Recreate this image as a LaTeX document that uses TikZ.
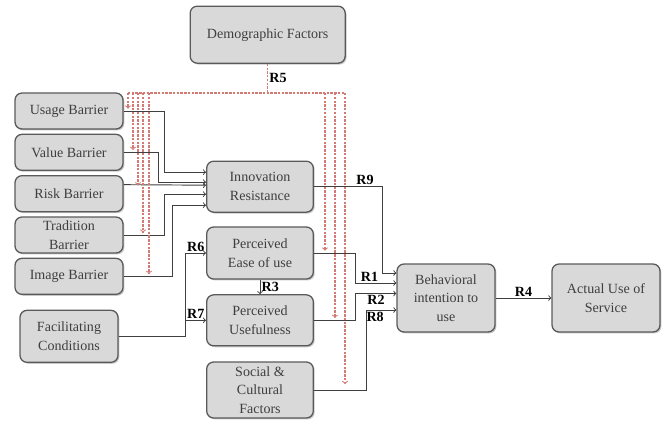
\documentclass[tikz,border=0pt]{standalone}
\usepackage{fontspec}
\setmainfont{Liberation Serif}
\usepackage{tikz}
\usetikzlibrary{positioning}
\usetikzlibrary{shadows}

\definecolor{boxgray}{HTML}{D9D9D9}
\definecolor{edgegray}{HTML}{5A5A5A}
\definecolor{textgray}{HTML}{3F3F3F}
\definecolor{modred}{HTML}{D47A74}

\begin{document}
\begin{tikzpicture}[->, >=to, auto, node distance = 1.24cm and 4.8cm, on grid,
                    font = \fontsize{12}{16}\selectfont,
                    block/.style = {rectangle,
                                    rounded corners = 6pt,
                                    draw = edgegray,
                                    line width = 1.1pt,
                                    fill = boxgray,
                                    drop shadow = {shadow xshift = 1.2pt,
                                                   shadow yshift = -1.2pt,
                                                   opacity = 0.45},
                                    text = textgray,
                                    align = center,
                                    inner sep = 1pt,
                                    minimum width = 3.24cm,
                                    minimum height = 1.08cm},
                    link/.style  = {draw = textgray, line width = 0.8pt},
                    moder/.style = {draw = modred, line width = 0.9pt,
                                    dash pattern = on 2pt off 1.2pt},
                    lbl/.style   = {font = \fontsize{12}{14}\selectfont\bfseries,
                                    text = black,
                                    inner sep = 1pt}]

\useasboundingbox (0,0) rectangle (19.95,-12.6);

\node[block, minimum width = 4.65cm, minimum height = 1.71cm] (DF) at (8.03,-1.04) {Demographic Factors};

\node[block] (UB) at (2.07,-3.33) {Usage Barrier};
\node[block] (VB) [below = of UB] {Value Barrier};
\node[block] (RB) [below = of VB] {Risk Barrier};
\node[block] (TB) [below = of RB] {Tradition\\Barrier};
\node[block] (IB) [below = of TB] {Image Barrier};
\node[block, minimum width = 2.94cm, minimum height = 1.56cm] (FC) [below = 1.8cm of IB] {Facilitating\\Conditions};

\node[block, minimum width = 3.2cm, minimum height = 1.53cm] (IR) at (7.8,-5.6) {Innovation\\Resistance};
\node[block, minimum width = 3.2cm, minimum height = 1.56cm] (PEU) [below = 1.99cm of IR] {Perceived\\Ease of use};
\node[block, minimum width = 3.2cm, minimum height = 1.53cm] (PU) [below = 2.02cm of PEU] {Perceived\\Usefulness};
\node[block, minimum width = 3.2cm, minimum height = 1.68cm] (SC) [below = 2.09cm of PU] {Social \&\\Cultural\\Factors};

\node[block, minimum width = 2.94cm, minimum height = 2.04cm] (BI) at (13.38,-8.94) {Behavioral\\intention to\\use};
\node[block, minimum height = 2.04cm] (AU) [right = of BI] {Actual Use of\\Service};

% barriers into innovation resistance
\draw[link] (UB.east) -- ++(1.23,0) |- ([yshift = 0.435cm]IR.west);
\draw[link] (VB.east) -- ++(1.05,0) |- ([yshift = 0.135cm]IR.west);
\draw[link] ([yshift = 0.27cm]RB.east) -- ([yshift = 0.045cm]IR.west);
\draw[link] (TB.east) -- ++(1.23,0) |- ([yshift = -0.225cm]IR.west);
\draw[link] (IB.east) -- ++(1.47,0) |- ([yshift = -0.555cm]IR.west);

\draw[link] (FC.east) -- ++(2.01,0) |- (PEU.west) node[lbl, pos = 0.75, above] {R6};
\draw[link] (FC.east) -- ++(2.01,0) |- (PU.west) node[lbl, pos = 0.75, above] {R7};
\draw[link] (PEU) -- (PU) node[lbl, midway, right] {R3};

% into behavioral intention
\draw[link] (IR.east) -- ++(2.04,0) node[lbl, pos = 0.75, above] {R9} |- ([yshift = 0.75cm]BI.west);
\draw[link] (PEU.east) -- ++(1.25,0) |- ([yshift = 0.45cm]BI.west) node[lbl, pos = 0.67, above] {R1};
\draw[link] (PU.east) -- ++(1.25,0) |- ([yshift = 0.135cm]BI.west) node[lbl, pos = 0.75, below] {R2};
\draw[link] (SC.east) -- ++(1.56,0) |- ([yshift = -0.36cm]BI.west) node[lbl, pos = 0.65, below] {R8};
\draw[link] (BI) -- (AU) node[lbl, midway, above] {R4};

% demographic moderation
\coordinate (d1) at (3.84,-2.79);
\coordinate (d2) at (3.99,-2.79);
\coordinate (d3) at (4.14,-2.79);
\coordinate (d4) at (4.29,-2.79);
\coordinate (d5) at (4.47,-2.79);
\coordinate (d6) at (9.75,-2.79);
\coordinate (d7) at (10.05,-2.79);
\coordinate (d8) at (10.35,-2.79);

\draw[moder, -] (DF.south) -- (DF.south |- d1) node[lbl, midway, right] {R5};
\draw[moder, -] (d1) -- (d8);
\draw[moder, shorten >= 2pt] (d1) -- (d1 |- UB.east);
\draw[moder, shorten >= 2pt] (d2) -- (d2 |- VB.east);
\draw[moder, shorten >= 1pt] (d3) -- (d3 |- IR.west);
\draw[moder, shorten >= 2pt] (d4) -- (d4 |- TB.east);
\draw[moder, shorten >= 2pt] (d5) -- (d5 |- IB.east);
\draw[moder, shorten >= 2pt] (d6) -- (d6 |- PEU.east);
\draw[moder, shorten >= 2pt] (d7) -- (d7 |- PU.east);
\draw[moder, shorten >= 5pt] (d8) -- (d8 |- SC.east);

\end{tikzpicture}
\end{document}
